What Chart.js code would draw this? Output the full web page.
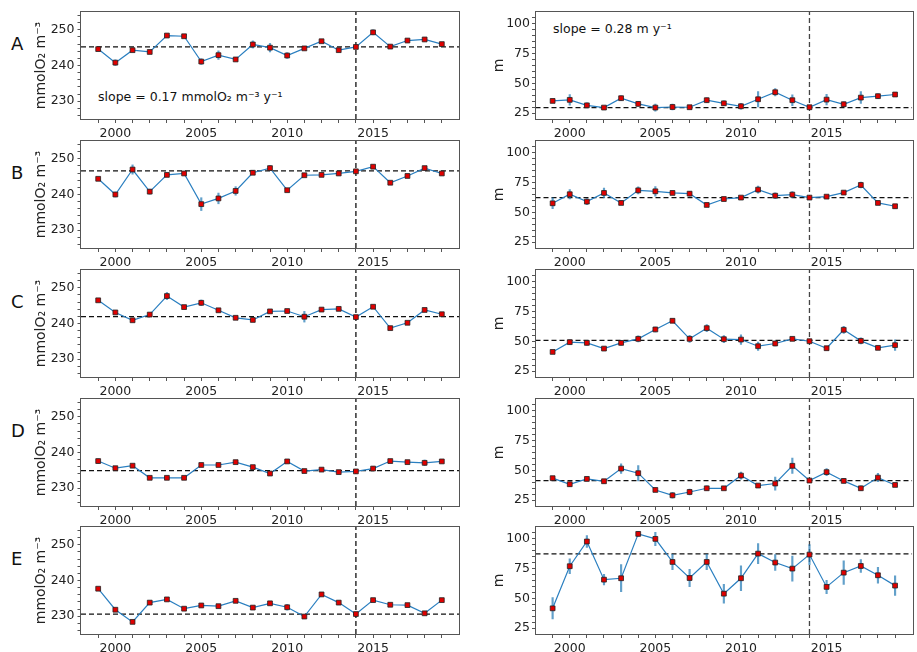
<!DOCTYPE html>
<html>
<head>
<meta charset="utf-8">
<script src="https://cdn.jsdelivr.net/npm/chart.js@4.4.1/dist/chart.umd.min.js"></script>
<style>
  body { margin: 0; background: #fff; width: 917px; height: 652px; position: relative; overflow: hidden; font-family: "DejaVu Sans", sans-serif; }
  canvas { position: absolute; }
  .letter { position: absolute; font-size: 18px; line-height: 20px; color: #111; }
  .note { position: absolute; font-size: 12.5px; line-height: 16px; color: #111; white-space: nowrap; }
</style>
</head>
<body>

<div class="letter" style="left:11px;top:34px">A</div>
<div class="letter" style="left:11px;top:163px">B</div>
<div class="letter" style="left:11px;top:292px">C</div>
<div class="letter" style="left:11px;top:421px">D</div>
<div class="letter" style="left:11px;top:549px">E</div>
<div class="note" style="left:98px;top:89px">slope = 0.17 mmolO₂ m⁻³ y⁻¹</div>
<div class="note" style="left:553px;top:21px">slope = 0.28 m y⁻¹</div>

<script>
// years of the series
var years = [1999, 2000, 2001, 2002, 2003, 2004, 2005, 2006, 2007, 2008, 2009,
             2010, 2011, 2012, 2013, 2014, 2015, 2016, 2017, 2018, 2019];
var splitYear = 2014;

// oxygen (left column), mmolO2 m-3
var o2A = [244.6, 240.8, 244.3, 243.8, 248.4, 248.2, 241.1, 242.9, 241.7, 245.9, 245.0,
           242.8, 244.8, 246.8, 244.3, 245.2, 249.3, 245.3, 247.0, 247.3, 246.0];
var o2ErrA = [0.4, 0.8, 0.4, 0.4, 0.4, 0.4, 0.8, 1.2, 0.4, 1.0, 1.2,
              0.8, 0.4, 0.4, 0.4, 0.4, 0.7, 0.4, 0.4, 0.4, 0.4];
var o2B = [244.4, 240.0, 247.0, 240.8, 245.5, 245.9, 237.3, 238.9, 241.0, 246.1, 247.4,
           241.2, 245.4, 245.5, 245.9, 246.5, 247.8, 243.3, 245.2, 247.4, 245.9];
var o2ErrB = [0.4, 0.7, 1.3, 0.7, 0.4, 0.4, 1.8, 1.5, 1.2, 0.4, 0.7,
              0.4, 0.4, 0.4, 0.4, 0.4, 0.4, 0.4, 0.4, 0.4, 0.4];
var o2C = [246.5, 243.1, 240.9, 242.5, 247.7, 244.6, 245.8, 243.7, 241.6, 241.0, 243.4,
           243.5, 241.9, 243.9, 244.1, 241.8, 244.7, 238.7, 240.2, 243.8, 242.6];
var o2ErrC = [0.4, 0.4, 0.4, 0.4, 1.0, 0.4, 0.8, 0.4, 0.4, 0.4, 0.4,
              0.4, 1.5, 0.4, 0.4, 0.4, 0.4, 0.4, 0.4, 0.4, 0.4];
var o2D = [237.6, 235.6, 236.3, 232.9, 232.9, 232.9, 236.5, 236.5, 237.3, 235.9, 234.1,
           237.5, 234.8, 235.2, 234.5, 234.7, 235.5, 237.6, 237.3, 237.1, 237.5];
var o2ErrD = [0.6, 0.4, 0.4, 0.4, 0.4, 0.4, 0.4, 0.4, 0.4, 0.4, 0.4,
              0.4, 0.4, 0.4, 0.4, 0.4, 0.6, 0.4, 0.4, 0.8, 0.4];
var o2E = [237.7, 231.8, 228.4, 233.8, 234.7, 232.1, 233.0, 232.8, 234.3, 232.4, 233.6,
           232.5, 229.9, 236.1, 233.8, 230.6, 234.5, 233.2, 233.1, 230.8, 234.5];
var o2ErrE = [0.4, 0.4, 0.4, 0.4, 0.4, 0.4, 0.4, 0.4, 0.4, 0.4, 0.4,
              0.8, 0.4, 0.4, 0.4, 0.4, 0.4, 0.4, 0.4, 0.4, 0.4];
var o2Ref = [245.2, 246.6, 241.9, 234.9, 230.6];

// depth (right column), m
var depthA = [35.2, 36.1, 31.5, 29.6, 37.5, 32.7, 29.6, 30.1, 29.9, 35.8, 33.2,
              30.7, 36.6, 42.5, 35.8, 29.9, 36.3, 32.4, 38.0, 39.2, 40.6];
var depthErrA = [1.5, 4.5, 2.0, 1.0, 2.0, 2.0, 3.0, 2.5, 1.0, 2.0, 2.0,
                 2.5, 6.5, 3.0, 4.5, 1.0, 4.5, 2.0, 5.0, 2.0, 1.5];
var depthB = [57.6, 65.2, 59.0, 66.3, 57.9, 68.5, 67.7, 66.3, 65.7, 56.2, 61.2,
              62.4, 69.1, 64.0, 64.9, 62.4, 63.2, 66.6, 73.0, 57.9, 55.1];
var depthErrB = [4.5, 4.0, 2.5, 4.0, 1.5, 3.0, 4.0, 1.5, 2.0, 1.5, 1.0,
                 1.0, 3.0, 2.5, 2.5, 1.0, 1.0, 1.5, 2.5, 1.5, 1.5];
var depthC = [41.1, 49.3, 48.7, 43.9, 48.7, 52.1, 60.0, 67.3, 52.1, 61.1, 51.8,
              51.5, 45.9, 48.2, 52.1, 50.1, 44.2, 59.7, 50.4, 44.5, 46.8];
var depthErrC = [1.0, 2.0, 2.0, 1.5, 2.0, 2.5, 2.0, 1.5, 3.0, 3.0, 3.0,
                 4.0, 3.5, 2.0, 1.5, 1.5, 1.5, 3.0, 2.5, 1.5, 4.5];
var depthD = [43.4, 38.3, 42.8, 40.8, 51.5, 47.6, 33.5, 29.0, 31.8, 34.9, 34.9,
              45.6, 37.2, 38.9, 53.8, 41.4, 48.5, 41.1, 34.9, 43.9, 37.7];
var depthErrD = [1.5, 2.0, 1.5, 1.5, 4.0, 6.5, 1.0, 2.5, 2.5, 2.0, 1.0,
                 3.0, 1.5, 5.5, 6.5, 1.0, 3.0, 2.0, 2.0, 3.5, 1.0];
var depthE = [41.6, 77.0, 97.8, 65.7, 66.9, 104.2, 100.0, 80.6, 67.1, 80.6, 53.9,
              66.9, 87.6, 80.1, 75.0, 86.8, 59.6, 71.6, 77.2, 69.4, 60.7];
var depthErrE = [9.0, 6.3, 5.0, 4.5, 11.4, 2.0, 5.6, 6.5, 7.3, 6.5, 7.9,
                 10.5, 8.4, 6.7, 10.5, 8.5, 5.6, 10.0, 5.5, 6.7, 8.3];
var depthRef = [29.6, 62.4, 50.8, 41.4, 87.4];

// axis labels
var yearTickLabels = [2000, 2005, 2010, 2015];
var o2TickLabels = [230, 240, 250];
var depthTickLabels = [25, 50, 75, 100];

var rowTops = [12, 141, 270, 399, 527];

Chart.defaults.font.family = '"DejaVu Sans", sans-serif';
Chart.defaults.font.size = 12.5;
Chart.defaults.color = '#222';

// tick positions: every multiple of step inside [a, b]
function range(a, b, step) {
  var out = [];
  for (var v = Math.ceil(a / step) * step; v <= b + 1e-9; v += step) out.push(v);
  return out;
}

var framePlugin = {
  id: 'frame',
  afterDraw: function (chart) {
    var a = chart.chartArea, c = chart.ctx;
    c.save();
    c.strokeStyle = '#555';
    c.lineWidth = 1;
    c.strokeRect(Math.round(a.left) - 0.5, Math.round(a.top) - 0.5,
                 Math.round(a.right - a.left) + 1, Math.round(a.bottom - a.top) + 1);
    c.restore();
  }
};

function makePanel(left, top, width, opt) {
  var cv = document.createElement('canvas');
  cv.width = width; cv.height = 141;
  cv.style.left = left + 'px'; cv.style.top = top + 'px';
  document.body.appendChild(cv);

  var pts = years.map(function (y, i) { return { x: y, y: opt.values[i] }; });
  var bars = years.map(function (y, i) { return { x: y, y: [opt.values[i] - opt.errs[i], opt.values[i] + opt.errs[i]] }; });
  var tickCol = function (ctx) {
    if (!ctx.tick) return '#555';
    var v = ctx.tick.value;
    return (v === ctx.scale.min || v === ctx.scale.max) ? 'rgba(0,0,0,0)' : '#555';
  };

  new Chart(cv, {
    type: 'line',
    data: {
      datasets: [
        { type: 'line', data: pts, borderColor: '#2a7fc0', borderWidth: 1.2,
          pointStyle: 'rect', pointRadius: 3.4, pointBackgroundColor: '#e00000',
          pointBorderColor: '#222', pointBorderWidth: 0.8, order: 0 },
        { type: 'bar', data: bars, backgroundColor: 'rgba(31,119,180,0.7)',
          barThickness: 1.5, borderWidth: 0, order: 1 },
        { type: 'line', data: [{ x: 1998, y: opt.ref }, { x: 2020, y: opt.ref }],
          borderColor: '#111', borderWidth: 1.3, borderDash: [5, 3], pointRadius: 0, order: 2 },
        { type: 'line', data: [{ x: splitYear, y: opt.min }, { x: splitYear, y: opt.max }],
          borderColor: opt.vColor, borderWidth: 1.3, borderDash: [5, 3], pointRadius: 0, order: 2 }
      ]
    },
    options: {
      responsive: false,
      animation: false,
      events: [],
      layout: { padding: { top: 12, left: opt.padLeft, right: opt.padRight, bottom: 0 } },
      plugins: { legend: { display: false }, tooltip: { enabled: false } },
      scales: {
        x: {
          type: 'linear', min: 1998, max: 2020, offset: false,
          grid: { display: true, drawOnChartArea: false, offset: false, tickLength: 4, tickColor: tickCol },
          border: { display: false },
          ticks: { autoSkip: false, maxRotation: 0, padding: 3,
                   callback: function (v) { return yearTickLabels.indexOf(v) >= 0 ? String(v) : ''; } },
          afterBuildTicks: function (ax) { ax.ticks = range(1998, 2020, 1).map(function (v) { return { value: v }; }); },
          afterFit: function (ax) { ax.height = 22; }
        },
        y: {
          type: 'linear', min: opt.min, max: opt.max,
          grid: { display: true, drawOnChartArea: false, tickLength: 3.5, tickColor: tickCol },
          border: { display: false },
          title: { display: true, text: opt.title, padding: { top: 3, bottom: 0 }, font: { size: 14 } },
          ticks: { autoSkip: false, padding: opt.tickPad,
                   callback: function (v) { return opt.labels.indexOf(v) >= 0 ? String(v) : ''; } },
          afterBuildTicks: function (ax) { ax.ticks = range(opt.min, opt.max, opt.minor).map(function (v) { return { value: v }; }); },
          afterFit: function (ax) { ax.width = opt.axisWidth; }
        }
      }
    },
    plugins: [framePlugin]
  });
}

var o2Series = [[o2A, o2ErrA], [o2B, o2ErrB], [o2C, o2ErrC], [o2D, o2ErrD], [o2E, o2ErrE]];
var depthSeries = [[depthA, depthErrA], [depthB, depthErrB], [depthC, depthErrC], [depthD, depthErrD], [depthE, depthErrE]];

rowTops.forEach(function (t, r) {
  makePanel(0, t - 12, 470, {
    values: o2Series[r][0], errs: o2Series[r][1], ref: o2Ref[r],
    min: 225, max: 255, minor: 2, labels: o2TickLabels, title: 'mmolO₂ m⁻³',
    padLeft: 30, padRight: 11, axisWidth: 51, tickPad: 3, vColor: '#111'
  });
  makePanel(470, t - 12, 447, {
    values: depthSeries[r][0], errs: depthSeries[r][1], ref: depthRef[r],
    min: 20, max: 110, minor: 5, labels: depthTickLabels, title: 'm',
    padLeft: 18, padRight: 3, axisWidth: 47.5, tickPad: 2, vColor: '#444'
  });
});
</script>
</body>
</html>
